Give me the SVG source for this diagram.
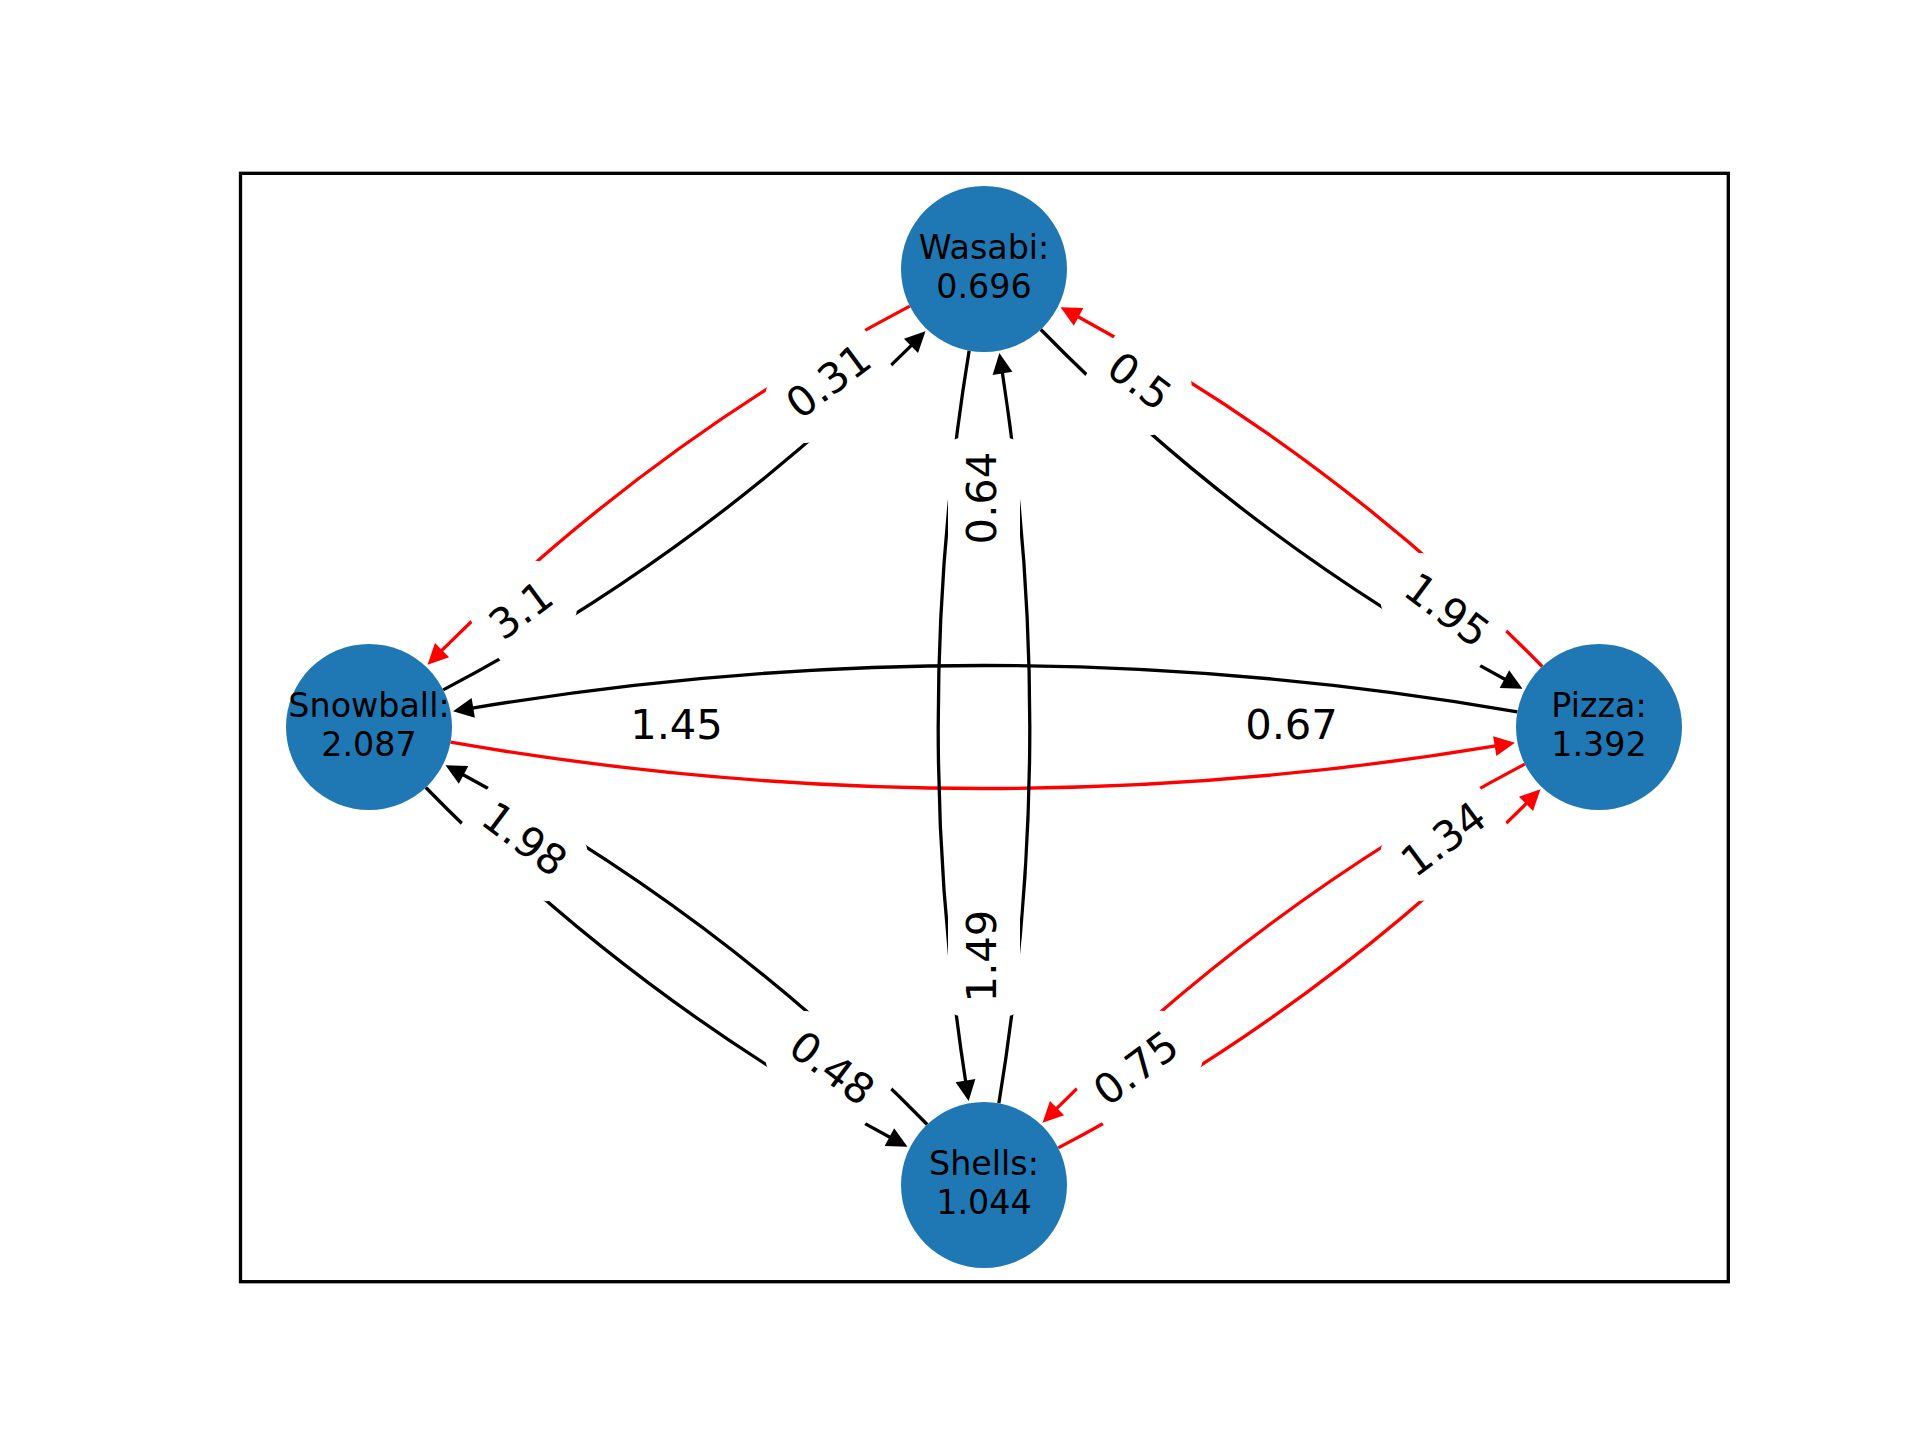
<svg xmlns="http://www.w3.org/2000/svg" width="1920" height="1440" viewBox="0 0 1920 1440">
  <style>
    .e{fill:none;stroke-width:3.3;stroke-linecap:butt}
    .k{stroke:#000;marker-end:url(#ahk)}
    .r{stroke:#f00;marker-end:url(#ahr)}
    .lb rect{fill:#fff}
    .lb text{font-family:"DejaVu Sans",sans-serif;font-size:41.67px;text-anchor:middle;fill:#000}
    .node circle{fill:#1f77b4}
    .node text{font-family:"DejaVu Sans",sans-serif;font-size:33.33px;text-anchor:middle;fill:#000}
  </style>
  <defs>
    <marker id="ahk" markerUnits="userSpaceOnUse" markerWidth="26" markerHeight="26" viewBox="-3 -13 26 26" refX="0" refY="0" orient="auto">
      <path d="M-1,-10 L19.5,0 L-1,10 Z" fill="#000"/>
    </marker>
    <marker id="ahr" markerUnits="userSpaceOnUse" markerWidth="26" markerHeight="26" viewBox="-3 -13 26 26" refX="0" refY="0" orient="auto">
      <path d="M-1,-10 L19.5,0 L-1,10 Z" fill="#f00"/>
    </marker>
  </defs>

  <rect width="1920" height="1440" fill="#fff"/>
  <!-- axes frame -->
  <rect x="240.5" y="173.3" width="1487.8" height="1108.4" fill="none" stroke="#000" stroke-width="3.33"/>

  <!-- directed edges, arc3 curvature -->
  <g id="edges">
    <path id="e-snowball-wasabi" class="e k" d="M443.24,689.91 Q703.82,552.91 911.69,345.15"/>
    <path id="e-wasabi-snowball" class="e r" d="M909.76,306.09 Q649.18,443.09 441.31,650.85"/>
    <path id="e-wasabi-pizza" class="e k" d="M1040.8,329.51 Q1246.70,539.93 1505.31,679.57"/>
    <path id="e-pizza-wasabi" class="e r" d="M1542.2,666.49 Q1336.30,456.07 1077.69,316.43"/>
    <path id="e-snowball-shells" class="e k" d="M425.8,787.51 Q631.70,997.93 890.31,1137.57"/>
    <path id="e-shells-snowball" class="e k" d="M927.2,1124.49 Q721.30,914.07 462.69,774.43"/>
    <path id="e-shells-pizza" class="e r" d="M1058.24,1147.91 Q1318.82,1010.91 1526.69,803.15"/>
    <path id="e-pizza-shells" class="e r" d="M1524.76,764.09 Q1264.18,901.09 1056.31,1108.85"/>
    <path id="e-pizza-snowball" class="e k" d="M1517.4,711.76 Q994.84,621.12 472.28,708.08"/>
    <path id="e-snowball-pizza" class="e r" d="M450.6,742.24 Q973.16,832.88 1495.72,745.92"/>
    <path id="e-wasabi-shells" class="e k" d="M969.13,350.65 Q909.07,716.14 965.66,1081.62"/>
    <path id="e-shells-wasabi" class="e k" d="M998.87,1103.35 Q1058.93,737.86 1002.34,372.38"/>
  </g>

  <!-- edge weight labels on white rounded boxes -->
  <g id="edge-labels" class="lb">
    <g transform="translate(522.75,612.5) rotate(-36.67)"><rect x="-46.7" y="-36" width="93.3" height="72" rx="12.5"/><text y="11.5">3.1</text></g>
    <g transform="translate(830.25,383.5) rotate(-36.67)"><rect x="-59.8" y="-36" width="119.7" height="72" rx="12.5"/><text y="11.5">0.31</text></g>
    <g transform="translate(1137.75,383.5) rotate(36.67)"><rect x="-46.7" y="-36" width="93.3" height="72" rx="12.5"/><text y="11.5">0.5</text></g>
    <g transform="translate(1445.25,612.5) rotate(36.67)"><rect x="-59.8" y="-36" width="119.7" height="72" rx="12.5"/><text y="11.5">1.95</text></g>
    <g transform="translate(676.5,727)"><rect x="-59.8" y="-36" width="119.7" height="72" rx="12.5"/><text y="11.5">1.45</text></g>
    <g transform="translate(1291.5,727)"><rect x="-59.8" y="-36" width="119.7" height="72" rx="12.5"/><text y="11.5">0.67</text></g>
    <g transform="translate(522.75,841.5) rotate(36.67)"><rect x="-59.8" y="-36" width="119.7" height="72" rx="12.5"/><text y="11.5">1.98</text></g>
    <g transform="translate(830.25,1070.5) rotate(36.67)"><rect x="-59.8" y="-36" width="119.7" height="72" rx="12.5"/><text y="11.5">0.48</text></g>
    <g transform="translate(1137.75,1070.5) rotate(-36.67)"><rect x="-59.8" y="-36" width="119.7" height="72" rx="12.5"/><text y="11.5">0.75</text></g>
    <g transform="translate(1445.25,841.5) rotate(-36.67)"><rect x="-59.8" y="-36" width="119.7" height="72" rx="12.5"/><text y="11.5">1.34</text></g>
    <g transform="translate(984,498) rotate(-90)"><rect x="-59.8" y="-36" width="119.7" height="72" rx="12.5"/><text y="11.5">0.64</text></g>
    <g transform="translate(984,956) rotate(-90)"><rect x="-59.8" y="-36" width="119.7" height="72" rx="12.5"/><text y="11.5">1.49</text></g>
  </g>

  <!-- nodes -->
  <g id="node-wasabi" class="node">
    <circle cx="984" cy="269" r="83"/>
    <text x="984" y="259.3">Wasabi:</text>
    <text x="984" y="297.7">0.696</text>
  </g>
  <g id="node-snowball" class="node">
    <circle cx="369" cy="727" r="83"/>
    <text x="369" y="717.3">Snowball:</text>
    <text x="369" y="755.7">2.087</text>
  </g>
  <g id="node-pizza" class="node">
    <circle cx="1599" cy="727" r="83"/>
    <text x="1599" y="717.3">Pizza:</text>
    <text x="1599" y="755.7">1.392</text>
  </g>
  <g id="node-shells" class="node">
    <circle cx="984" cy="1185" r="83"/>
    <text x="984" y="1175.3">Shells:</text>
    <text x="984" y="1213.7">1.044</text>
  </g>
</svg>
